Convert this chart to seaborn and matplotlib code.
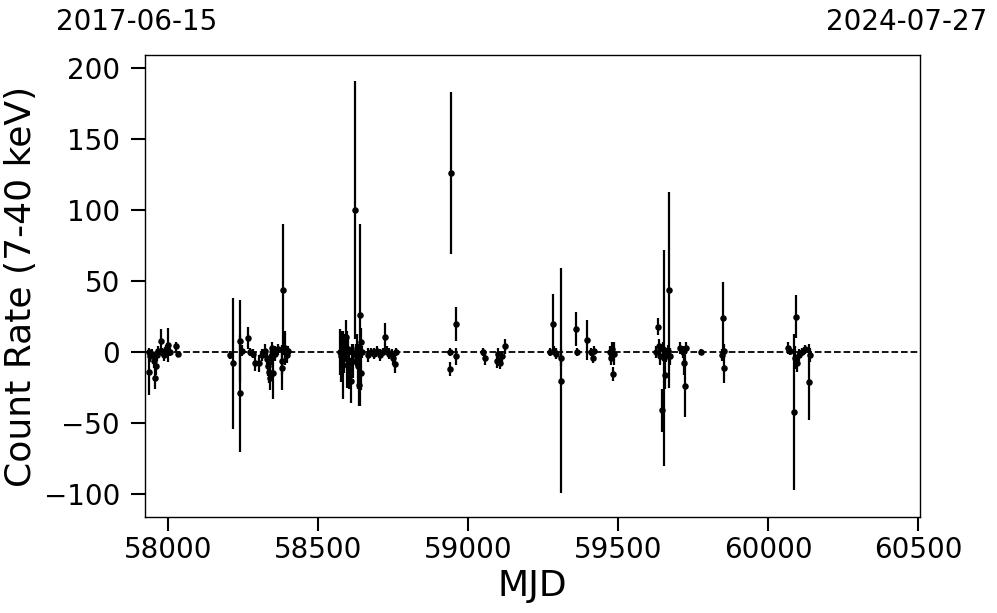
import matplotlib
matplotlib.use("Agg")
import matplotlib.pyplot as plt
import seaborn as sns
import pandas as pd

sns.set_theme(context="talk", style="ticks")
plt.rcParams.update({"text.color": "black", "axes.labelcolor": "black",
                     "xtick.color": "black", "ytick.color": "black",
                     "axes.edgecolor": "black"})

# light curve values (MJD, count rate, 1-sigma error)
MJD = [
    57937, 57938, 57940, 57947, 57953, 57957, 57960, 57963, 57967, 57976,
    57980, 57987, 57993, 57999, 58007, 58027, 58033,
    58207, 58218, 58240, 58241, 58247, 58266, 58273, 58283, 58290, 58303,
    58313, 58323, 58330, 58333, 58337, 58340, 58343, 58347, 58350, 58357,
    58367, 58379, 58380, 58384, 58390, 58397, 58400,
    58573, 58577, 58580, 58583, 58587, 58593, 58597, 58600, 58603, 58610,
    58613, 58617, 58623, 58627, 58630, 58633, 58638, 58640, 58642, 58643,
    58647, 58667, 58677, 58687, 58697, 58707, 58717, 58723, 58730, 58737,
    58746, 58750, 58757, 58760,
    58939, 58940, 58943, 58960, 58961, 59050, 59057, 59097, 59100, 59107,
    59113, 59123,
    59273, 59282, 59287, 59293, 59309, 59310, 59360, 59363, 59396, 59410,
    59416, 59420, 59473, 59477, 59480, 59484, 59487,
    59627, 59633, 59637, 59640, 59646, 59650, 59653, 59657, 59660, 59667,
    59670, 59673, 59707, 59717, 59720, 59723, 59727, 59777, 59847, 59850,
    59852, 59853,
    60067, 60073, 60087, 60090, 60093, 60097, 60103, 60113, 60123, 60138,
    60140,
]
RATE = [
    0, -14, -3, -1, -6, -18, -10, -2, 1, 8,
    0, -2, 2, 5, 0, 4, -1,
    -2, -8, 8, -29, 1, 10, 0, -1, -8, -8,
    -2, 1, -5, -10, -14, -18, -3, 3, -15, -1,
    2, -6, -11, 44, 3, -2, 1,
    0, -3, 2, -9, -1, 10.5, -5, 2, -12, -20,
    0, -6, 100, -2, 3, -10, -23, 26, 7, -15,
    0, -2, 0, -1, 1, -2, 0, 10.5, 1, -1,
    -1, -4, -8.5, 0,
    -12, 0, 126, 20, -3, 0, -4, -6, -1, -8,
    -3, 4,
    0, 20, 1, -1, -4, -20, 16, 0, 8.5, 0,
    -4, 1, 0, -4, 2, -15.5, -1,
    0, 18, 4, -3, -41, 2, -4, -16, -2, 1,
    43.5, -3, 3, 0, -8, -24, 3, 0, -2, 24,
    1, -11,
    3, 1, -42, -4, 25, -8, -2, 0, 2, -21,
    -2,
]
ERR = [
    3, 16, 4, 3, 5, 8, 6, 4, 3, 8,
    3, 4, 3, 12, 3, 3, 2,
    3, 46, 29, 41, 4, 8, 3, 3, 5, 6,
    4, 5, 6, 7, 8, 9, 6, 4, 18, 5,
    4, 10, 16, 46, 12, 6, 3,
    16, 18, 12, 24, 14, 12, 20, 8, 14, 16,
    6, 12, 91, 8, 10, 16, 15, 64, 10, 12,
    4, 5, 3, 4, 3, 4, 3, 10, 3, 4,
    3, 5, 6, 3,
    5, 3, 57, 12, 6, 3, 5, 5, 4, 4,
    4, 5,
    3, 21, 3, 4, 6, 79, 12, 3, 14, 3,
    4, 3, 4, 5, 5, 5, 8,
    4, 6, 5, 6, 15, 5, 76, 10, 5, 4,
    69, 6, 4, 4, 8, 22, 4, 2, 4, 25,
    5, 11,
    4, 3, 55, 8, 15, 6, 4, 3, 3, 27,
    5,
]

START_LABEL = "2017-06-15"
END_LABEL = "2024-07-27"

df = pd.DataFrame({"MJD": MJD, "rate": RATE, "err": ERR})

fig, ax = plt.subplots(figsize=(9.97, 6.13), dpi=100)
fig.subplots_adjust(left=0.1454, right=0.9228, top=0.9103, bottom=0.1566)

ax.axhline(0, color="black", ls="--", lw=1.3, zorder=1)
ax.errorbar(df["MJD"], df["rate"], yerr=df["err"], fmt="none",
            ecolor="black", elinewidth=1.6, zorder=2)
sns.scatterplot(data=df, x="MJD", y="rate", ax=ax, color="black",
                s=22, edgecolor="black", linewidth=0, zorder=3)

ax.set_xlim(57923, 60507)
ax.set_ylim(-116, 209)
ax.set_xticks([58000, 58500, 59000, 59500, 60000, 60500])
ax.set_yticks([-100, -50, 0, 50, 100, 150, 200])
ax.set_xlabel("MJD", fontsize=26)
ax.set_ylabel("Count Rate (7-40 keV)", fontsize=26)
ax.tick_params(axis="both", labelsize=20, length=10, width=1.5, direction="out")
ax.tick_params(axis="y", pad=8)
for sp in ax.spines.values():
    sp.set_linewidth(1.0)

fig.text(137 / 997, 1 - 22 / 613, START_LABEL, ha="center", va="center", fontsize=20)
fig.text(907 / 997, 1 - 22 / 613, END_LABEL, ha="center", va="center", fontsize=20)

fig.savefig("out.png", dpi=100)
